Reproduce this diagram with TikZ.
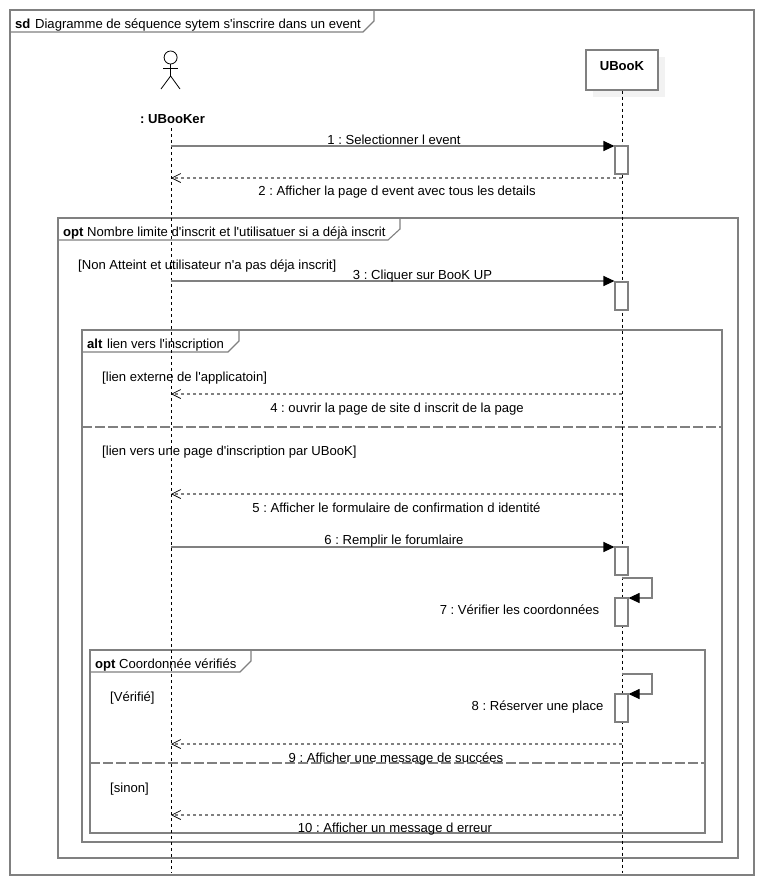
\documentclass[tikz,border=0pt]{standalone}
\usepackage{fontspec}
\setmainfont{Liberation Sans}
\usetikzlibrary{arrows.meta,positioning}
\definecolor{trait}{RGB}{128,128,128}
\definecolor{ombre}{RGB}{242,242,242}
\newcommand{\apos}{\textquotesingle{}}
\frenchspacing
\tikzset{
  cadre/.style={draw=trait, line width=1.1pt},
  life/.style={draw=black, line width=1pt, dash pattern=on 3pt off 3pt},
  acteur/.style={draw=black, line width=0.8pt},
  objet/.style={draw=trait, line width=1.1pt, fill=white, minimum width=72pt, minimum height=40pt, inner sep=0pt},
  act/.style={draw=trait, line width=1.1pt, fill=white, minimum width=13pt, minimum height=28pt, inner sep=0pt},
  msg/.style={-{Triangle[length=11pt,width=10pt,black]}, draw=trait, line width=1.1pt},
  rep/.style={-{Straight Barb[length=9pt,width=9pt,black,line width=0.7pt]}, draw=trait, line width=1.1pt, dash pattern=on 3pt off 3pt},
  et/.style={inner sep=0pt, text height=10.9pt, text depth=0pt},
  sep/.style={draw=trait, line width=1.1pt, dash pattern=on 10pt off 3pt},
}
\begin{document}
\begin{tikzpicture}[x=1pt,y=-1pt,font=\fontsize{13.1}{15}\selectfont]
  \useasboundingbox (0,0) rectangle (764,884);
  \fill[white] (0,0) rectangle (764,884);
  % cadres
  \draw[cadre] (10,10) rectangle (754,875);
  \draw[cadre] (10,32) -- (363,32) -- (374,21) -- (374,10);
  \draw[cadre] (58,218) rectangle (738,858);
  \draw[cadre] (58,240) -- (388,240) -- (400,229) -- (400,218);
  \draw[cadre] (82,330) rectangle (722,842);
  \draw[cadre] (82,352) -- (228,352) -- (239,341) -- (239,330);
  \draw[sep] (82,427) -- (722,427);
  \draw[cadre] (90,650) rectangle (705,833);
  \draw[cadre] (90,672) -- (240,672) -- (251,661) -- (251,650);
  \draw[sep] (90,763) -- (705,763);
  % titres
  \node[et, anchor=west] (tsd) at (15,23) {\textbf{sd}\kern1pt{} Diagramme de séquence sytem s\apos inscrire dans un event};
  \node[et, anchor=west] (topt) at (63,231) {\textbf{opt} Nombre limite d\apos inscrit et l\apos utilisatuer si a déjà inscrit};
  \node[et, anchor=west] (talt) at (87,343) {\textbf{alt}\kern1pt{} lien vers l\apos inscription};
  \node[et, anchor=west] (tver) at (95,663) {\textbf{opt} Coordonnée vérifiés};
  % acteur
  \node[acteur, circle, minimum size=13pt, inner sep=0pt] (tete) at (170.6,57.5) {};
  \coordinate (bassin) at (170.6,76);
  \coordinate (brasg) at (163,68);
  \coordinate (brasd) at (178,68);
  \coordinate (piedg) at (161,89);
  \coordinate (piedd) at (180,89);
  \draw[acteur] (tete.south) -- (bassin);
  \draw[acteur] (brasg) -- (brasd);
  \draw[acteur] (piedg) -- (bassin) -- (piedd);
  \node[et, font=\fontsize{13.1}{15}\selectfont\bfseries] (ubooker) at (172.5,118) {: UBooKer};
  % objet
  \fill[ombre] (593,57) rectangle (665,97);
  \node[objet] (ubook) at (622,70) {};
  \node[et, font=\fontsize{13.1}{15}\selectfont\bfseries] (lubook) at (622,65) {UBooK};
  % lignes de vie
  \coordinate (va) at (171,128);
  \coordinate (vafin) at (171,873);
  \coordinate (vbfin) at (622,873);
  \draw[life] (va) -- (vafin);
  \draw[life] (ubook.south) -- (vbfin);
  % activations
  \node[act] (a1) at (621.5,160) {};
  \node[act] (a2) at (621.5,296) {};
  \node[act] (a3) at (621.5,561) {};
  \node[act] (a4) at (621.5,612) {};
  \node[act] (a5) at (621.5,708) {};
  % messages
  \coordinate (m1) at (171,146);
  \coordinate (m2a) at (622,178);
  \coordinate (m2b) at (171,178);
  \coordinate (m3) at (171,281);
  \coordinate (m4a) at (622,394);
  \coordinate (m4b) at (171,394);
  \coordinate (m5a) at (622,494);
  \coordinate (m5b) at (171,494);
  \coordinate (m6) at (171,547);
  \coordinate (m7a) at (622,578);
  \coordinate (m7b) at (652,578);
  \coordinate (m7c) at (652,598);
  \coordinate (m8a) at (622,674);
  \coordinate (m8b) at (652,674);
  \coordinate (m8c) at (652,694);
  \coordinate (m9a) at (622,744);
  \coordinate (m9b) at (171,744);
  \coordinate (m10a) at (622,815);
  \coordinate (m10b) at (171,815);
  \draw[msg] (m1) -- (m1 -| a1.west);
  \draw[rep] (m2a) -- (m2b);
  \draw[msg] (m3) -- (m3 -| a2.west);
  \draw[rep] (m4a) -- (m4b);
  \draw[rep] (m5a) -- (m5b);
  \draw[msg] (m6) -- (m6 -| a3.west);
  \draw[msg] (m7a) -- (m7b) -- (m7c) -- (m7c -| a4.east);
  \draw[msg] (m8a) -- (m8b) -- (m8c) -- (m8c -| a5.east);
  \draw[rep] (m9a) -- (m9b);
  \draw[rep] (m10a) -- (m10b);
  % textes
  \node[et] (e1) at (394,139) {1 : Selectionner l event};
  \node[et] (e2) at (397,190) {2 : Afficher la page d event avec tous les details};
  \node[et, anchor=west] (g1) at (78,264) {[Non Atteint et utilisateur n\apos a pas déja inscrit]};
  \node[et] (e3) at (422.5,274) {3 : Cliquer sur BooK UP};
  \node[et, anchor=west] (g2) at (102,376) {[lien externe de l\apos applicatoin]};
  \node[et] (e4) at (397,407) {4 : ouvrir la page de site d inscrit de la page};
  \node[et, anchor=west] (g3) at (102,450) {[lien vers une page d\apos inscription par UBooK]};
  \node[et] (e5) at (396.5,507) {5 : Afficher le formulaire de confirmation d identité};
  \node[et] (e6) at (394,539) {6 : Remplir le forumlaire};
  \node[et] (e7) at (519.5,609) {7 : Vérifier les coordonnées};
  \node[et, anchor=west] (g4) at (110,696) {[Vérifié]};
  \node[et] (e8) at (537.5,705) {8 : Réserver une place};
  \node[et] (e9) at (396,757) {9 : Afficher une message de succées};
  \node[et, anchor=west] (g5) at (110,787) {[sinon]};
  \node[et] (e10) at (395,827) {10 : Afficher un message d erreur};
\end{tikzpicture}
\end{document}
